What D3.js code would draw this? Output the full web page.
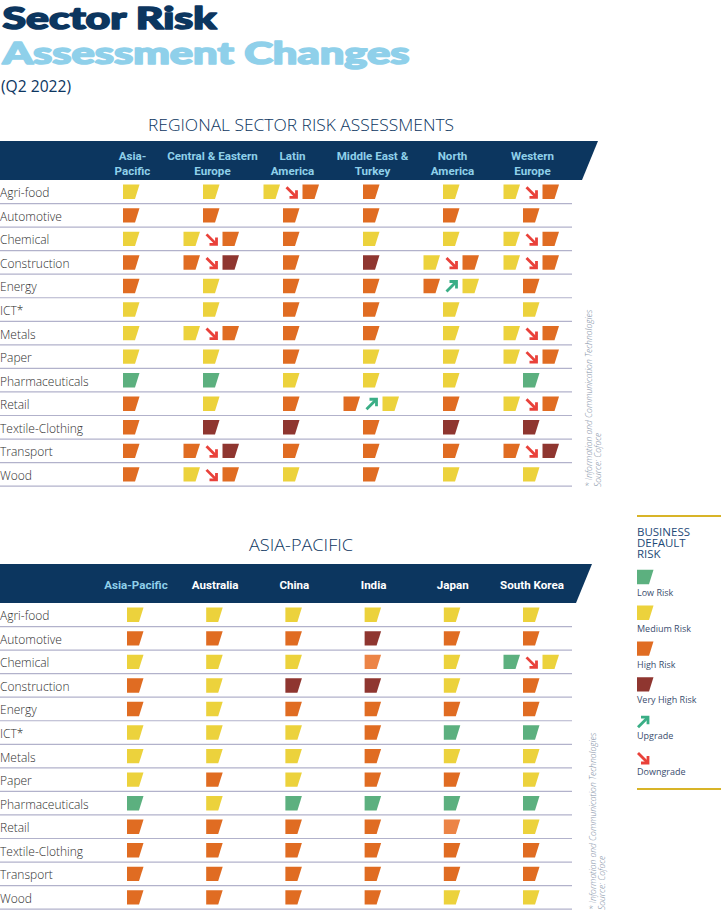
<!DOCTYPE html>
<html>
<head>
<meta charset="utf-8">
<script src="https://cdn.jsdelivr.net/npm/d3@7"></script>
<style>
html,body{margin:0;padding:0;background:#fff;}
svg{display:block;}
</style>
</head>
<body>
<svg id="chart" width="721" height="912"></svg>
<script>
// ---------- DATA ----------
const sectors = ["Agri-food","Automotive","Chemical","Construction","Energy","ICT*","Metals","Paper","Pharmaceuticals","Retail","Textile-Clothing","Transport","Wood"];

const regions = ["Asia-Pacific","Central & Eastern Europe","Latin America","Middle East & Turkey","North America","Western Europe"];
const regionHeaderLines = [["Asia-","Pacific"],["Central & Eastern","Europe"],["Latin","America"],["Middle East &","Turkey"],["North","America"],["Western","Europe"]];
// L low, M medium, H high, V very high, h high (lighter tone); "A>B" = change from A to B
const regionalRisk = [
  ["M","M","M>H","H","M","M>H"],
  ["H","H","H","H","H","H"],
  ["M","M>H","H","M","M","M>H"],
  ["H","H>V","H","V","M>H","M>H"],
  ["H","M","H","H","H>M","H"],
  ["M","M","H","H","M","M"],
  ["M","M>H","H","H","M","M>H"],
  ["M","M","H","M","M","M>H"],
  ["L","L","M","M","M","L"],
  ["H","M","H","H>M","H","M>H"],
  ["H","V","V","H","V","V"],
  ["H","H>V","H","H","H","H>V"],
  ["H","M>H","M","H","M","M"]
];

const apCountries = ["Asia-Pacific","Australia","China","India","Japan","South Korea"];
const apRisk = [
  ["M","M","M","M","M","M"],
  ["H","H","H","V","H","H"],
  ["M","M","M","h","M","L>M"],
  ["H","M","V","V","M","H"],
  ["H","M","H","H","H","H"],
  ["M","M","M","H","L","L"],
  ["M","M","M","H","M","M"],
  ["M","H","M","H","H","M"],
  ["L","M","L","L","L","L"],
  ["H","H","H","H","h","M"],
  ["H","H","H","H","H","H"],
  ["H","H","H","H","H","H"],
  ["H","H","H","H","M","M"]
];

const legendLevels = ["L","M","H","V"];
const legendLevelLabels = ["Low Risk","Medium Risk","High Risk","Very High Risk"];
const legendChanges = ["up","down"];
const legendChangeLabels = ["Upgrade","Downgrade"];

const titleLine1 = "Sector Risk";
const titleLine2 = "Assessment Changes";
const subtitle = "(Q2 2022)";
const table1Title = "REGIONAL SECTOR RISK ASSESSMENTS";
const table2Title = "ASIA-PACIFIC";
const noteLine1 = "* Information and Communication Technologies";
const noteLine2 = "Source: Coface";
const legendTitle = ["BUSINESS","DEFAULT","RISK"];

// ---------- STYLE ----------
const NAVY = "#0c365f";
const LIGHTBLUE = "#8fd0ea";
const riskColor = d3.scaleOrdinal()
  .domain(["L","M","H","V","h"])
  .range(["#5cb07f","#ecd23c","#e06c22","#8f3630","#ec8446"]);
const UPC = "#3aae86", DOWNC = "#e9413a";

const svg = d3.select("#chart");

// ---------- TITLE ----------
svg.append("text").attr("x",2.5).attr("y",28.5)
  .attr("font-family","Lato, 'Open Sans', sans-serif").attr("font-weight",900)
  .attr("font-size",31).attr("fill",NAVY)
  .attr("stroke",NAVY).attr("stroke-width",1.6).attr("stroke-linejoin","round")
  .attr("textLength",214).attr("lengthAdjust","spacingAndGlyphs")
  .text(titleLine1);
svg.append("text").attr("x",2.5).attr("y",63.5)
  .attr("font-family","Lato, 'Open Sans', sans-serif").attr("font-weight",900)
  .attr("font-size",31).attr("fill",LIGHTBLUE)
  .attr("stroke",LIGHTBLUE).attr("stroke-width",1.6).attr("stroke-linejoin","round")
  .attr("textLength",407).attr("lengthAdjust","spacingAndGlyphs")
  .text(titleLine2);
svg.append("text").attr("x",1).attr("y",91.5)
  .attr("font-family","'Open Sans', sans-serif").attr("font-weight",400)
  .attr("font-size",15.5).attr("fill",NAVY)
  .attr("textLength",70).attr("lengthAdjust","spacingAndGlyphs")
  .text(subtitle);

// ---------- helpers ----------
function markerPath(cx, cy){
  const p = d3.path();
  p.moveTo(cx-8, cy-7.2);
  p.lineTo(cx+8.5, cy-7.2);
  p.lineTo(cx+4, cy+7.2);
  p.lineTo(cx-8, cy+7.2);
  p.closePath();
  return p.toString();
}
function arrowPaths(cx, cy, dir){
  const s = dir === "down" ? 1 : -1;
  return [
    `M${cx-5},${cy-5*s} L${cx+4},${cy+4*s}`,
    `M${cx-2},${cy+5*s} L${cx+5},${cy+5*s} L${cx+5},${cy-2*s}`
  ];
}
function drawArrow(g, cx, cy, dir){
  arrowPaths(cx, cy, dir).forEach(d => {
    g.append("path").attr("d", d).attr("fill","none")
      .attr("stroke", dir === "down" ? DOWNC : UPC)
      .attr("stroke-width", 2.8).attr("stroke-linejoin","miter").attr("stroke-linecap","butt");
  });
}
const levelRank = {L:0,M:1,H:2,h:2,V:3};

function drawTable(cfg){
  const g = svg.append("g");
  // title
  g.append("text").attr("x", cfg.titleX).attr("y", cfg.titleY)
    .attr("text-anchor","middle")
    .attr("font-family","'Open Sans', sans-serif").attr("font-weight",300)
    .attr("font-size",15.5).attr("fill",NAVY)
    .attr("textLength",cfg.titleLen).attr("lengthAdjust","spacingAndGlyphs")
    .text(cfg.title);
  // header band
  const b = cfg.band;
  g.append("path")
    .attr("d", `M0,${b.top} L${b.xTop},${b.top} L${b.xBot},${b.bot} L0,${b.bot} Z`)
    .attr("fill", NAVY);

  const x = d3.scalePoint().domain(cfg.cols).range(cfg.xRange);
  const y = d3.scaleBand().domain(sectors).range([b.bot, b.bot + 23.55*sectors.length]);

  // header labels
  cfg.cols.forEach((c,i) => {
    const lines = cfg.headerLines[i];
    const t = g.append("text")
      .attr("text-anchor","middle")
      .attr("font-family","Roboto, 'Open Sans', sans-serif").attr("font-weight",700)
      .attr("font-size",11.6)
      .attr("fill", cfg.headerColor(i));
    lines.forEach((ln, k) => {
      t.append("tspan").attr("x", x(c) + cfg.headerDx)
        .attr("y", cfg.headerY + k*15).text(ln);
    });
  });

  // row lines and labels
  sectors.forEach((s, r) => {
    g.append("line").attr("x1",0).attr("x2",572)
      .attr("y1", y(s)+y.bandwidth()).attr("y2", y(s)+y.bandwidth())
      .attr("stroke","#b2b2cb").attr("stroke-width",1.2);
    g.append("text").attr("x",0).attr("y", y(s)+y.bandwidth()/2 + 5.5)
      .attr("font-family","'Open Sans', sans-serif").attr("font-weight",300)
      .attr("font-size",12).attr("fill","#2e2e2e")
      .text(s);
    cfg.cols.forEach((c, i) => {
      const v = cfg.data[r][i];
      const cx = x(c), cy = y(s) + y.bandwidth()/2;
      if (v.includes(">")) {
        const [a, z] = v.split(">");
        g.append("path").attr("d", markerPath(cx-19.5, cy)).attr("fill", riskColor(a));
        g.append("path").attr("d", markerPath(cx+19.5, cy)).attr("fill", riskColor(z));
        drawArrow(g, cx+0.5, cy+0.5, levelRank[z] > levelRank[a] ? "down" : "up");
      } else {
        g.append("path").attr("d", markerPath(cx, cy)).attr("fill", riskColor(v));
      }
    });
  });

  // side notes
  [noteLine1, noteLine2].forEach((t, k) => {
    g.append("text")
      .attr("transform", `translate(${cfg.noteX + k*9},${cfg.noteY}) rotate(-90)`)
      .attr("font-family","'Open Sans', sans-serif").attr("font-style","italic").attr("font-weight",300)
      .attr("font-size",8.5).attr("fill","#7e8da3")
      .text(t);
  });
}

drawTable({
  title: table1Title, titleX: 301, titleY: 131, titleLen: 306,
  band: {top:141, bot:180, xTop:598, xBot:582},
  cols: regions, headerLines: regionHeaderLines,
  headerColor: () => LIGHTBLUE, headerY: 160, headerDx: 1.5,
  xRange: [131, 531], data: regionalRisk,
  noteX: 592, noteY: 487
});

drawTable({
  title: table2Title, titleX: 301, titleY: 551, titleLen: 104,
  band: {top:564, bot:603, xTop:592, xBot:576},
  cols: apCountries, headerLines: apCountries.map(d => [d]),
  headerColor: i => i === 0 ? LIGHTBLUE : "#ffffff", headerY: 589, headerDx: 1,
  xRange: [135, 531], data: apRisk,
  noteX: 596, noteY: 910
});

// ---------- LEGEND ----------
const lg = svg.append("g");
const LX = 637;
lg.append("line").attr("x1",LX).attr("x2",721).attr("y1",516).attr("y2",516)
  .attr("stroke","#d8b428").attr("stroke-width",2);
lg.append("line").attr("x1",LX).attr("x2",721).attr("y1",789).attr("y2",789)
  .attr("stroke","#d8b428").attr("stroke-width",2);
legendTitle.forEach((t,k) => {
  lg.append("text").attr("x",LX).attr("y",536 + k*11)
    .attr("font-family","'Open Sans', sans-serif").attr("font-weight",400)
    .attr("font-size",11.5).attr("fill","#1e4a78").text(t);
});
const ly = d3.scalePoint().domain(legendLevels.concat(legendChanges)).range([577, 756]);
legendLevels.forEach((lv, i) => {
  lg.append("path").attr("d", markerPath(LX+8, ly(lv))).attr("fill", riskColor(lv));
  lg.append("text").attr("x",LX).attr("y", ly(lv)+19)
    .attr("font-family","'Open Sans', sans-serif").attr("font-size",9)
    .attr("fill","#3a4d6e").text(legendLevelLabels[i]);
});
legendChanges.forEach((c, i) => {
  drawArrow(lg, LX+6, ly(c)+2, c);
  lg.append("text").attr("x",LX).attr("y", ly(c)+19)
    .attr("font-family","'Open Sans', sans-serif").attr("font-size",9)
    .attr("fill","#3a4d6e").text(legendChangeLabels[i]);
});
</script>
</body>
</html>
